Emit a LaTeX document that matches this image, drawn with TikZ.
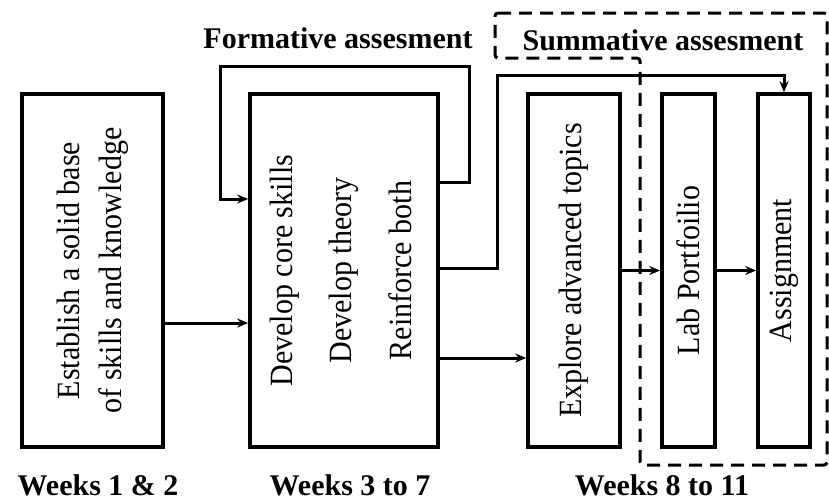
\documentclass[tikz,border=0pt]{standalone}
\usepackage{fontspec}
\setmainfont{Liberation Serif}
\usetikzlibrary{arrows.meta,calc}
\begin{document}
\begin{tikzpicture}[x=1pt,y=-1pt,
  box/.style={draw,line width=3.6pt,minimum height=353pt,inner sep=0pt,anchor=center,font=\fontsize{30}{36}\selectfont},
  arr/.style={line width=3pt,-{Stealth[length=11pt,width=9pt]}},
  lbl/.style={font=\fontsize{30}{36}\selectfont\bfseries,inner sep=0pt},
  wk/.style={lbl,anchor=base},
  dashbox/.style={line width=3pt,dash pattern=on 13pt off 8pt,rounded corners=3pt}]
\useasboundingbox (0,0) rectangle (829,501);
\node[box,minimum width=141pt] (b1) at (92.5,270.5)
  {\rotatebox{90}{\scalebox{1}[1.08]{\begin{tabular}{@{}c@{}}Establish a solid base\\[3pt]of skills and knowledge\end{tabular}}}};
\node[box,minimum width=188pt] (b2) at (344,270.5)
  {\rotatebox{90}{\scalebox{1}[1.08]{\begin{tabular}{@{}c@{}}Develop core skills\\[19pt]Develop theory\\[19pt]Reinforce both\end{tabular}}}};
\node[box,minimum width=92pt] (b3) at (574,270.5) {\rotatebox{90}{\scalebox{1}[1.08]{Explore advanced topics}}};
\node[box,minimum width=53pt] (b4) at (688.5,270.5) {\rotatebox{90}{\scalebox{1}[1.08]{Lab Portfoilio}}};
\node[box,minimum width=52pt] (b5) at (784,270.5) {\rotatebox{90}{\scalebox{1}[1.08]{Assignment}}};
\node[lbl] (fa) at (338,38) {Formative assesment};
\node[lbl] (sa) at (663,40) {Summative assesment};
\node[wk] (w1) at (98,495) {Weeks 1 \& 2};
\node[wk] (w2) at (350,495) {Weeks 3 to 7};
\node[wk] (w3) at (662,495) {Weeks 8 to 11};
\coordinate (f1) at (469,66);
\coordinate (f2) at (220,66);
\coordinate (r1) at (497,75);
\draw[arr] ([yshift=-52.5pt]b1.east) -- ([yshift=-52.5pt]b1.east -| b2.west);
\draw[arr] ([yshift=88.5pt]b2.east) -| (f1) -- (f2) |- ([yshift=71.5pt]b2.west);
\draw[arr] ([yshift=2.5pt]b2.east) -| (r1) -| (b5.north);
\draw[arr] ([yshift=-87.5pt]b2.east) -- ([yshift=-87.5pt]b2.east -| b3.west);
\draw[arr] (b3.east) -- (b4.west);
\draw[arr] (b4.east) -- (b5.west);
\draw[dashbox] (495,13) -- (827,13) -- (827,465) -- (640,465) -- (640,58) -- (495,58) -- cycle;
\end{tikzpicture}
\end{document}
